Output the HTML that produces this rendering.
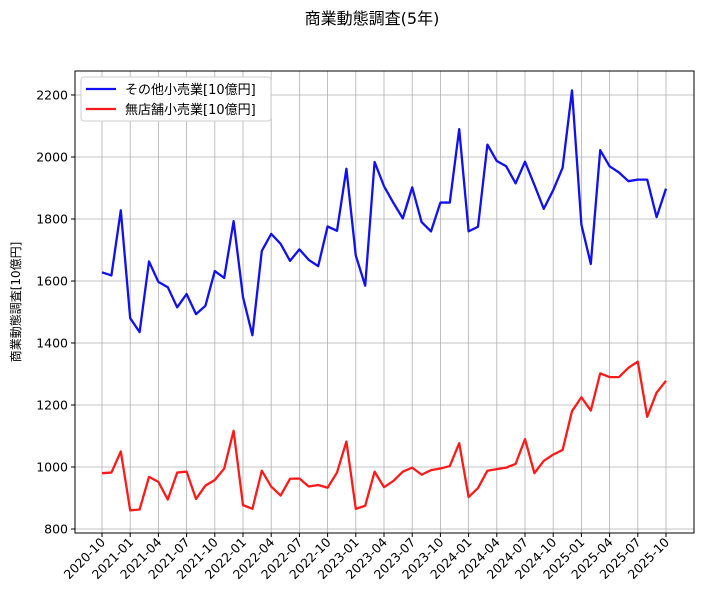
<!DOCTYPE html>
<html><head><meta charset="utf-8"><style>
body{margin:0;background:#fff;font-family:"DejaVu Sans","Noto Sans CJK JP",sans-serif}
text{font-family:"DejaVu Sans","Noto Sans CJK JP",sans-serif}
</style></head><body>
<svg id="c" width="703" height="602" xmlns="http://www.w3.org/2000/svg"></svg>
<script>
const otherRetail=[1628,1618,1828,1480,1435,1663,1597,1580,1515,1558,1493,1520,1632,1610,1793,1548,1425,1697,1752,1720,1665,1702,1668,1648,1776,1762,1962,1682,1585,1984,1906,1852,1802,1902,1790,1760,1853,1853,2090,1760,1775,2040,1987,1970,1915,1985,1910,1833,1893,1965,2215,1782,1655,2022,1970,1950,1922,1927,1927,1806,1898];
const storeless=[980,982,1050,860,863,968,952,895,982,985,897,940,958,995,1117,877,865,988,937,908,962,963,937,942,933,982,1082,865,875,985,935,955,985,998,975,990,995,1003,1077,903,932,988,993,998,1010,1090,980,1020,1040,1055,1180,1225,1182,1302,1290,1290,1320,1340,1162,1240,1278];
const yTicks=[800,1000,1200,1400,1600,1800,2000,2200];
const xTickLabels=["2020-10","2021-01","2021-04","2021-07","2021-10","2022-01","2022-04","2022-07","2022-10","2023-01","2023-04","2023-07","2023-10","2024-01","2024-04","2024-07","2024-10","2025-01","2025-04","2025-07","2025-10"];
const NS="http://www.w3.org/2000/svg";
const svg=document.getElementById('c');
const L=75,R=694,T=71,B=533;
const X=i=>102+i*(666-102)/60;
const Y=v=>529-(v-800)*0.31;
function mk(tag,attrs,parent){const e=document.createElementNS(NS,tag);for(const k in attrs)e.setAttribute(k,attrs[k]);(parent||svg).appendChild(e);return e;}
const t=mk('text',{x:372,y:24,'text-anchor':'middle','font-size':16});t.textContent='商業動態調査(5年)';


yTicks.forEach(v=>{
  const g=mk('line',{x1:L,x2:R,y1:Y(v),y2:Y(v),stroke:'#b0b0b0','stroke-width':0.8});
  
  
  mk('line',{x1:L-4,x2:L,y1:Y(v),y2:Y(v),stroke:'#000'});
  const tx=mk('text',{x:L-7,y:Y(v)+4.5,'text-anchor':'end','font-size':12.5});tx.textContent=v;
  
  
});
xTickLabels.forEach((s,k)=>{
  const x=X(k*3);
  const g=mk('line',{x1:x,x2:x,y1:T,y2:B,stroke:'#b0b0b0','stroke-width':0.8});
  
  
  mk('line',{x1:x,x2:x,y1:B,y2:B+4,stroke:'#000'});
  const tx=mk('text',{x:x+4,y:B+10,'text-anchor':'end','font-size':12.5,transform:`rotate(-45 ${x+4} ${B+10})`});tx.textContent=s;
  
  
});
function line(data,color,name){
  const p=mk('polyline',{points:data.map((v,i)=>X(i)+','+Y(v)).join(' '),fill:'none',stroke:color,'stroke-width':2.3,'stroke-linejoin':'round'});
  
  
}
line(otherRetail,'#1010f0','series-other-retail');
line(storeless,'#ff1a1a','series-storeless-retail');
const fr=mk('rect',{x:L,y:T,width:R-L,height:B-T,fill:'none',stroke:'#000','stroke-width':1});


const yl=mk('text',{x:20,y:302,'text-anchor':'middle','font-size':12,transform:'rotate(-90 20 302)'});yl.textContent='商業動態調査[10億円]';


const lg=mk('g',{});


mk('rect',{x:81,y:77,width:190,height:44,fill:'#fff',stroke:'#ccc',rx:3},lg);
[['その他小売業[10億円]','#1010f0'],['無店舗小売業[10億円]','#ff1a1a']].forEach((e,i)=>{
  const y=89+i*20;
  mk('line',{x1:86,x2:116,y1:y,y2:y,stroke:e[1],'stroke-width':2.3},lg);
  const tx=mk('text',{x:125,y:y+5,'font-size':13},lg);tx.textContent=e[0];
  
  
});
</script>
</body></html>
